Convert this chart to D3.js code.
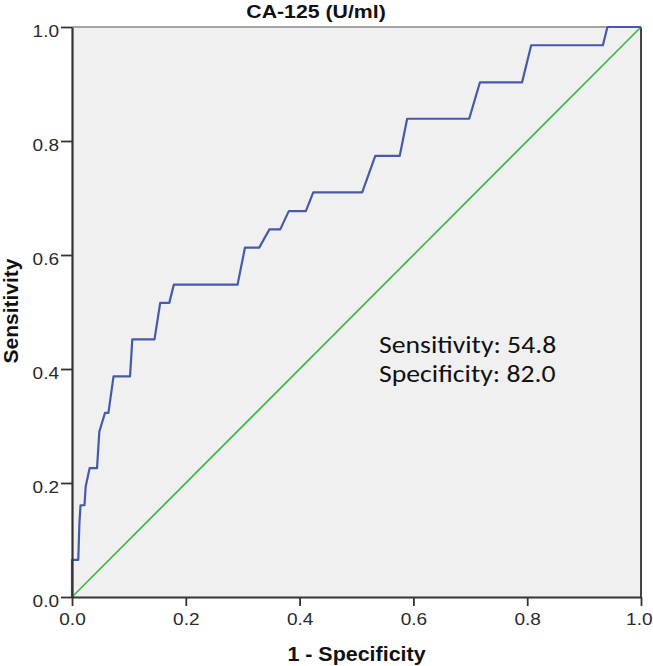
<!DOCTYPE html>
<html>
<head>
<meta charset="utf-8">
<script src="https://cdn.jsdelivr.net/npm/d3@7"></script>
<style>
  html, body { margin: 0; padding: 0; background: #ffffff; }
  svg { display: block; }
</style>
</head>
<body>
<svg id="chart" width="653" height="666"></svg>
<script>
// ---- data ----
const titleText = "CA-125 (U/ml)";
const xLabel = "1 - Specificity";
const yLabel = "Sensitivity";
const tickValues = [0.0, 0.2, 0.4, 0.6, 0.8, 1.0];
const rocFpr = [0, 0, 0.011, 0.013, 0.015, 0.022, 0.024, 0.031, 0.044, 0.048, 0.058, 0.064, 0.073, 0.102, 0.106, 0.145, 0.155, 0.171, 0.179, 0.291, 0.304, 0.329, 0.347, 0.366, 0.381, 0.411, 0.424, 0.510, 0.533, 0.576, 0.589, 0.698, 0.717, 0.791, 0.807, 0.933, 0.941, 1.0];
const rocTpr = [0, 0.065, 0.065, 0.129, 0.161, 0.161, 0.194, 0.226, 0.226, 0.290, 0.323, 0.323, 0.387, 0.387, 0.452, 0.452, 0.516, 0.516, 0.548, 0.548, 0.613, 0.613, 0.645, 0.645, 0.677, 0.677, 0.710, 0.710, 0.774, 0.774, 0.839, 0.839, 0.903, 0.903, 0.968, 0.968, 1.0, 1.0];
const refFpr = [0, 1];
const refTpr = [0, 1];
const annotations = ["Sensitivity: 54.8", "Specificity: 82.0"];

// ---- layout ----
const svg = d3.select("#chart");
const L = 72, R = 641, T = 27, B = 597;
const x = d3.scaleLinear().domain([0, 1]).range([L, R]);
const y = d3.scaleLinear().domain([0, 1]).range([B, T]);
const sx = 1.12;

// plot background
svg.append("rect")
  .attr("x", x(0)).attr("y", y(1))
  .attr("width", x(1) - x(0)).attr("height", y(0) - y(1))
  .attr("fill", "#f0f0f0");

// top & right frame
svg.append("line").attr("x1", x(0)).attr("x2", x(1)).attr("y1", y(1)).attr("y2", y(1))
  .attr("stroke", "#8a8a8a").attr("stroke-width", 1.5);
svg.append("line").attr("x1", x(1)).attr("x2", x(1)).attr("y1", y(1)).attr("y2", y(0))
  .attr("stroke", "#444").attr("stroke-width", 2);

// reference diagonal
const refData = refFpr.map((d, i) => [d, refTpr[i]]);
svg.append("path")
  .datum(refData)
  .attr("fill", "none")
  .attr("stroke", "#3cb84a")
  .attr("stroke-width", 1.7)
  .attr("d", d3.line().x(d => x(d[0])).y(d => y(d[1])));

// ROC curve
const rocData = rocFpr.map((d, i) => [d, rocTpr[i]]);
svg.append("path")
  .datum(rocData)
  .attr("fill", "none")
  .attr("stroke", "#465aaa")
  .attr("stroke-width", 2.2)
  .attr("stroke-linejoin", "round")
  .attr("d", d3.line().x(d => x(d[0])).y(d => y(d[1])));

// axes
const fmt = d3.format(".1f");
const gx = svg.append("g")
  .attr("transform", `translate(0,${B})`)
  .call(d3.axisBottom(x).tickValues(tickValues).tickFormat(fmt).tickSize(9).tickSizeOuter(0).tickPadding(7));
const gy = svg.append("g")
  .attr("transform", `translate(${L},0)`)
  .call(d3.axisLeft(y).tickValues(tickValues).tickFormat(fmt).tickSize(11).tickSizeOuter(0).tickPadding(2));

[gx, gy].forEach(g => {
  g.select(".domain").attr("stroke", "#333").attr("stroke-width", 2.2);
  g.selectAll(".tick line").attr("stroke", "#333").attr("stroke-width", 1.8);
  g.selectAll(".tick text")
    .attr("fill", "#2a2a2a")
    .attr("font-family", "'Liberation Sans', Arial, sans-serif")
    .attr("font-size", 17);
});
gx.selectAll(".tick text").attr("transform", `scale(${sx},1)`);
// keep the last x label inside the picture (right edge at ~652 as in reference)
gx.selectAll(".tick text").filter(d => d === 1)
  .attr("text-anchor", "end")
  .attr("x", (652 - x(1)) / sx);
gy.selectAll(".tick text").attr("x", -13 / sx).attr("dy", "0.55em").attr("transform", `scale(${sx},1)`);

// title
svg.append("text")
  .attr("transform", `translate(316,18) scale(1.12,1)`)
  .attr("text-anchor", "middle")
  .attr("font-family", "'Liberation Sans', Arial, sans-serif")
  .attr("font-weight", "bold")
  .attr("font-size", 19)
  .attr("fill", "#111")
  .text(titleText);

// x label
svg.append("text")
  .attr("transform", `translate(${(L + R) / 2},661) scale(1.1,1)`)
  .attr("text-anchor", "middle")
  .attr("font-family", "'Liberation Sans', Arial, sans-serif")
  .attr("font-weight", "bold")
  .attr("font-size", 19.5)
  .attr("fill", "#111")
  .text(xLabel);

// y label
svg.append("text")
  .attr("transform", `translate(18,${(T + B) / 2 - 1}) rotate(-90)`)
  .attr("text-anchor", "middle")
  .attr("font-family", "'Liberation Sans', Arial, sans-serif")
  .attr("font-weight", "bold")
  .attr("font-size", 21)
  .attr("fill", "#111")
  .text(yLabel);

// annotation (one text block, two lines)
svg.append("text")
  .attr("transform", `translate(379,353) scale(1.165,1)`)
  .attr("font-family", "Carlito, 'Open Sans', sans-serif")
  .attr("font-size", 23.8)
  .attr("fill", "#111")
  .selectAll("tspan")
  .data(annotations)
  .join("tspan")
  .attr("x", 0)
  .attr("y", (d, i) => i * 29.3)
  .text(d => d);
</script>
</body>
</html>
